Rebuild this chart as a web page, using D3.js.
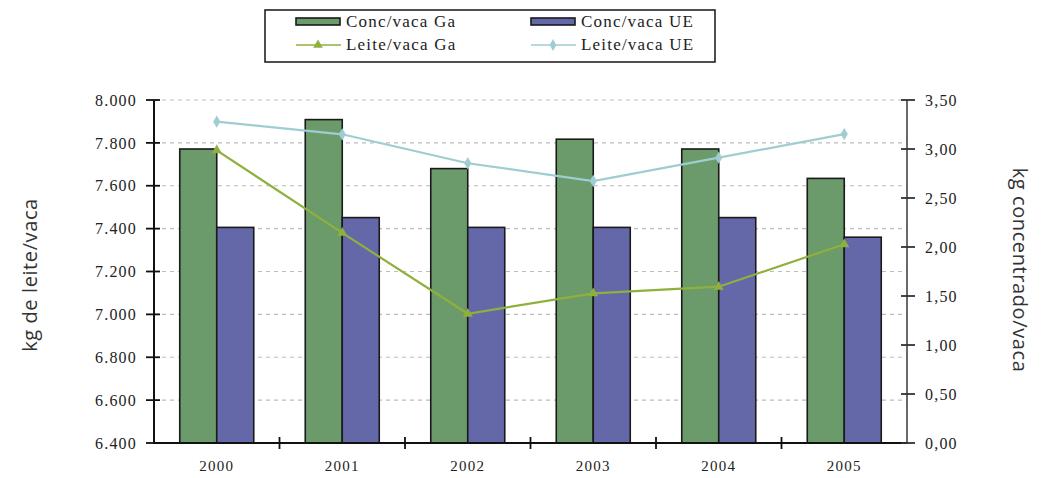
<!DOCTYPE html>
<html>
<head>
<meta charset="utf-8">
<script src="https://cdn.jsdelivr.net/npm/d3@7"></script>
<style>
  html, body { margin: 0; padding: 0; background: #ffffff; }
  svg { display: block; }
</style>
</head>
<body>
<svg id="chart" width="1048" height="478"></svg>
<script>
// Anos
const years = ["2000", "2001", "2002", "2003", "2004", "2005"];
// Concentrado por vaca (kg) – eixo direito
const concGa = [3.00, 3.30, 2.80, 3.10, 3.00, 2.70];
const concUE = [2.20, 2.30, 2.20, 2.20, 2.30, 2.10];
// Leite por vaca (kg) – eixo esquerdo
const leiteGa = [7765, 7380, 7003, 7098, 7129, 7327];
const leiteUE = [7899, 7840, 7705, 7622, 7731, 7841];
// Marcas dos eixos
const leftTicks = [6400, 6600, 6800, 7000, 7200, 7400, 7600, 7800, 8000];
const rightTicks = [0, 0.5, 1, 1.5, 2, 2.5, 3, 3.5];

const C = {
  barGa: "#6b9a6b",
  barUE: "#6468a8",
  lineGa: "#8fb03c",
  lineUE: "#9ecdd2",
  axis: "#111111",
  grid: "#bdbdbd",
  text: "#222222"
};
const SERIF = "'Liberation Serif', 'Times New Roman', serif";

const pt = d3.formatLocale({ decimal: ",", thousands: ".", grouping: [3], currency: ["", ""] });
const fmtL = pt.format(",.0f");
const fmtR = pt.format(".2f");

const svg = d3.select("#chart");
const plot = { left: 154, right: 907, top: 100, bottom: 443 };

const x = d3.scaleBand().domain(years).range([plot.left, plot.right]).padding(0);
const yL = d3.scaleLinear().domain([6400, 8000]).range([plot.bottom, plot.top]);
const yR = d3.scaleLinear().domain([0, 3.5]).range([plot.bottom, plot.top]);
const barW = 37;
const cx = d => x(d) + x.bandwidth() / 2;

// Linhas de grelha
svg.append("g").selectAll("line")
  .data(leftTicks.slice(1))
  .join("line")
  .attr("x1", plot.left).attr("x2", plot.right)
  .attr("y1", d => yL(d)).attr("y2", d => yL(d))
  .attr("stroke", C.grid).attr("stroke-width", 1.2)
  .attr("stroke-dasharray", "4,4");

// Barras de concentrado
const bars = svg.append("g");
bars.selectAll("rect.ga")
  .data(years)
  .join("rect")
  .attr("class", "ga")
  .attr("x", d => cx(d) - barW)
  .attr("width", barW)
  .attr("y", (d, i) => yR(concGa[i]))
  .attr("height", (d, i) => yR(0) - yR(concGa[i]))
  .attr("fill", C.barGa).attr("stroke", "#1a1a1a").attr("stroke-width", 1.6);
bars.selectAll("rect.ue")
  .data(years)
  .join("rect")
  .attr("class", "ue")
  .attr("x", d => cx(d))
  .attr("width", barW)
  .attr("y", (d, i) => yR(concUE[i]))
  .attr("height", (d, i) => yR(0) - yR(concUE[i]))
  .attr("fill", C.barUE).attr("stroke", "#1a1a1a").attr("stroke-width", 1.6);

// Linhas de leite
function drawLine(values, color, marker) {
  const pts = years.map((y, i) => [cx(y), yL(values[i])]);
  svg.append("path")
    .datum(pts)
    .attr("d", d3.line())
    .attr("fill", "none")
    .attr("stroke", color)
    .attr("stroke-width", 2.2);
  svg.append("g").selectAll("path")
    .data(pts)
    .join("path")
    .attr("transform", d => `translate(${d[0]},${d[1]})`)
    .attr("d", d3.symbol().type(marker).size(44))
    .attr("fill", color);
}
drawLine(leiteUE, C.lineUE, d3.symbolDiamond);
drawLine(leiteGa, C.lineGa, d3.symbolTriangle);

// Eixos
const axisL = d3.axisLeft(yL).tickValues(leftTicks).tickFormat(fmtL).tickSize(0).tickPadding(17);
const gL = svg.append("g").attr("transform", `translate(${plot.left},0)`).call(axisL);
const axisR = d3.axisRight(yR).tickValues(rightTicks).tickFormat(fmtR).tickSize(0).tickPadding(18);
const gR = svg.append("g").attr("transform", `translate(${plot.right},0)`).call(axisR);
const axisB = d3.axisBottom(x).tickSize(0).tickPadding(17);
const gB = svg.append("g").attr("transform", `translate(0,${plot.bottom})`).call(axisB);

[gL, gR, gB].forEach(g => {
  g.select(".domain").remove();
  g.selectAll("text")
    .attr("font-family", SERIF)
    .attr("font-size", 16)
    .attr("letter-spacing", "1.2px")
    .attr("fill", C.text);
});
gB.selectAll("text").attr("font-size", 15);

// Linhas dos eixos e marcas cruzadas
svg.append("line").attr("x1", plot.left).attr("x2", plot.left)
  .attr("y1", plot.top).attr("y2", plot.bottom + 1)
  .attr("stroke", C.axis).attr("stroke-width", 2);
svg.append("line").attr("x1", plot.right).attr("x2", plot.right)
  .attr("y1", plot.top).attr("y2", plot.bottom + 1)
  .attr("stroke", "#444").attr("stroke-width", 1.6);
svg.append("line").attr("x1", plot.left).attr("x2", plot.right)
  .attr("y1", plot.bottom).attr("y2", plot.bottom)
  .attr("stroke", C.axis).attr("stroke-width", 1.8);

svg.append("g").selectAll("line").data(leftTicks).join("line")
  .attr("x1", plot.left - 8).attr("x2", plot.left + 6)
  .attr("y1", d => yL(d)).attr("y2", d => yL(d))
  .attr("stroke", C.axis).attr("stroke-width", 1.8);
svg.append("g").selectAll("line").data(rightTicks).join("line")
  .attr("x1", plot.right - 6).attr("x2", plot.right + 8)
  .attr("y1", d => yR(d)).attr("y2", d => yR(d))
  .attr("stroke", "#333").attr("stroke-width", 1.8);
svg.append("g").selectAll("line").data(years.slice(1)).join("line")
  .attr("x1", d => x(d)).attr("x2", d => x(d))
  .attr("y1", plot.bottom - 6).attr("y2", plot.bottom + 6)
  .attr("stroke", C.axis).attr("stroke-width", 1.8);

// Títulos dos eixos
svg.append("text")
  .attr("transform", `translate(37,275) rotate(-90)`)
  .attr("text-anchor", "middle")
  .attr("font-family", "'Open Sans', sans-serif")
  .attr("font-size", 20)
  .attr("letter-spacing", "0.6px")
  .attr("fill", "#333")
  .text("kg de leite/vaca");
svg.append("text")
  .attr("transform", `translate(1013,270) rotate(90)`)
  .attr("text-anchor", "middle")
  .attr("font-family", "'Open Sans', sans-serif")
  .attr("font-size", 20)
  .attr("letter-spacing", "0.6px")
  .attr("fill", "#333")
  .text("kg concentrado/vaca");

// Legenda
const leg = svg.append("g");
leg.append("rect").attr("x", 265).attr("y", 10).attr("width", 450).attr("height", 52)
  .attr("fill", "#fff").attr("stroke", "#222").attr("stroke-width", 1.6);
const legItems = [
  { label: "Conc/vaca Ga", type: "bar", color: C.barGa, x: 296, y: 22 },
  { label: "Conc/vaca UE", type: "bar", color: C.barUE, x: 531, y: 22 },
  { label: "Leite/vaca Ga", type: "line", color: C.lineGa, marker: d3.symbolTriangle, x: 296, y: 45 },
  { label: "Leite/vaca UE", type: "line", color: C.lineUE, marker: d3.symbolDiamond, x: 531, y: 45 }
];
legItems.forEach(it => {
  if (it.type === "bar") {
    leg.append("rect").attr("x", it.x).attr("y", it.y - 4).attr("width", 44).attr("height", 7)
      .attr("fill", it.color).attr("stroke", "#1a1a1a").attr("stroke-width", 1.6);
  } else {
    leg.append("line").attr("x1", it.x).attr("x2", it.x + 45)
      .attr("y1", it.y).attr("y2", it.y)
      .attr("stroke", it.color).attr("stroke-width", 1.5);
    leg.append("path").attr("transform", `translate(${it.x + 22},${it.y})`)
      .attr("d", d3.symbol().type(it.marker).size(40)).attr("fill", it.color);
  }
  leg.append("text").attr("x", it.x + 50).attr("y", it.y + 5)
    .attr("font-family", SERIF)
    .attr("font-size", 17)
    .attr("letter-spacing", "1.2px")
    .attr("fill", C.text)
    .text(it.label);
});
</script>
</body>
</html>
